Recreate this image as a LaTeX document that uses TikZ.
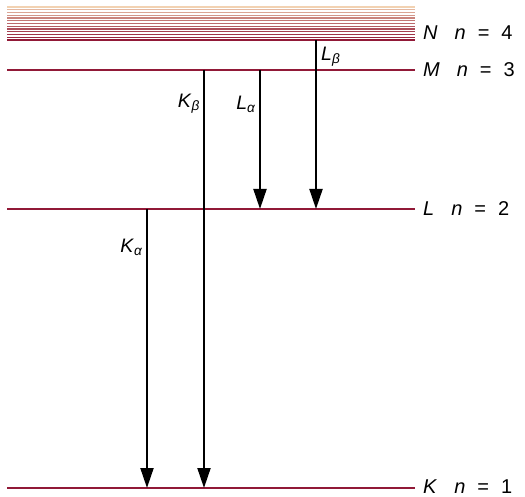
\documentclass[tikz,border=0pt]{standalone}
\usepackage{fontspec}
\setmainfont{Liberation Sans}
\usetikzlibrary{arrows.meta}
\definecolor{levelred}{RGB}{145,25,55}
\definecolor{levellight}{RGB}{242,210,178}
\newcommand{\shelltext}[2]{\textit{#1}\hspace{17pt}\textit{n}\hspace{12pt}=\hspace{12pt}#2}

\begin{document}
\begin{tikzpicture}[x=1pt,y=-1pt,font=\fontsize{20}{22}\selectfont,
  level/.style={levelred,line width=1.5pt},
  shell/.style={anchor=west,inner sep=0pt},
  trans/.style={-{Triangle[length=20pt,width=13pt]},line width=2pt},
  lbl/.style={inner sep=1pt,font=\fontsize{19.5}{22}\selectfont}]
  \useasboundingbox (0,0) rectangle (525,497);
  % continuum of levels above n = 4
  \foreach \i in {0,...,12} {
    \pgfmathsetmacro\yy{7+2.75*\i}
    \pgfmathsetmacro\mix{round(100*(\i/12)^0.8)}
    \draw[line width=1.4pt,levelred!\mix!levellight] (7,\yy) -- (415,\yy);
  }
  \coordinate (N) at (316,40);
  % shells
  \draw[level] (7,70) -- (415,70);
  \draw[level] (7,209) -- (415,209);
  \draw[level] (7,488) -- (415,488);
  \node[shell] (Nlab) at (423,33) {\shelltext{N}{4}};
  \node[shell] (Mlab) at (423,70) {\shelltext{M}{3}};
  \node[shell] (Llab) at (423,209) {\shelltext{L}{2}};
  \node[shell] (Klab) at (423,486.5) {\shelltext{K}{1}};
  % start and end points of the transitions
  \coordinate (Ka top) at (147,209); \coordinate (Ka end) at (147,488);
  \coordinate (Kb top) at (204,70);  \coordinate (Kb end) at (204,488);
  \coordinate (La top) at (260,70);  \coordinate (La end) at (260,209);
  \coordinate (Lb end) at (316,209);
  \draw[trans] (Ka top) -- (Ka end);
  \draw[trans] (Kb top) -- (Kb end);
  \draw[trans] (La top) -- (La end);
  \draw[trans] (N) -- (Lb end);
  \node[lbl,anchor=east] (Ka) at (144,247) {\textit{K}\textsubscript{\textit{α}}};
  \node[lbl,anchor=east] (Kb) at (201,104) {\textit{K}\textsubscript{\textit{β}}};
  \node[lbl,anchor=east] (La) at (257,104) {\textit{L}\textsubscript{\textit{α}}};
  \node[lbl,anchor=west] (Lb) at (320,57) {\textit{L}\textsubscript{\textit{β}}};
\end{tikzpicture}
\end{document}
